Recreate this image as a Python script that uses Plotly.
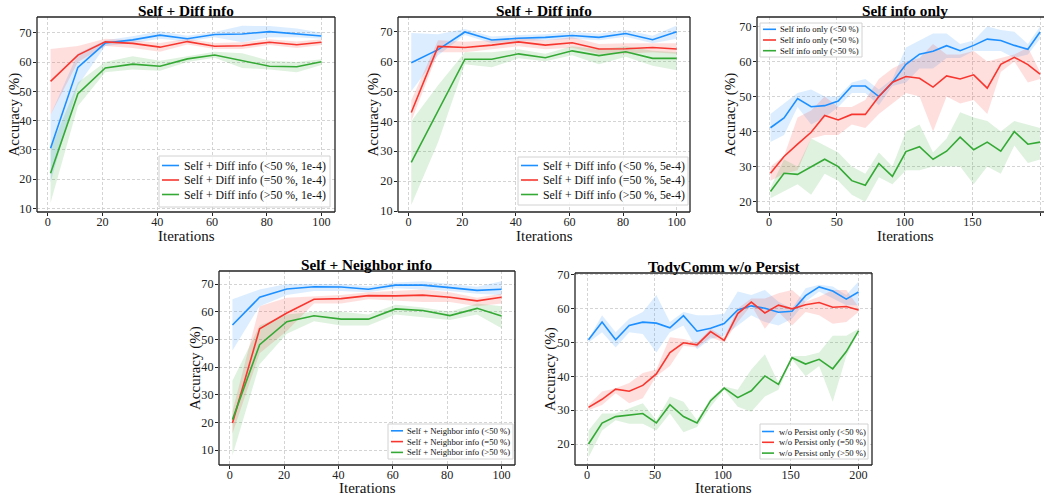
import plotly.graph_objects as go

W, H = 1044, 495

# ---------------- data ----------------
x100 = [1, 11, 21, 31, 41, 51, 61, 71, 81, 91, 100]
x200 = [1, 11, 21, 31, 41, 51, 61, 71, 81, 91, 101, 111, 121, 131, 141, 151, 161, 171, 181, 191, 200]

# Panel 1: Self + Diff info (1e-4)
p1_blue = [30.6, 58.2, 66.5, 67.6, 69.2, 68.0, 69.4, 69.6, 70.4, 69.7, 68.9]
p1_blue_lo = [19.0, 52.0, 65.5, 66.5, 68.0, 67.0, 68.5, 66.8, 68.5, 68.5, 68.0]
p1_blue_hi = [42.0, 63.0, 67.5, 68.8, 70.5, 69.0, 70.3, 72.4, 72.3, 71.5, 70.0]
p1_red = [53.4, 62.4, 66.9, 66.4, 65.1, 67.0, 65.4, 65.6, 66.8, 65.9, 66.8]
p1_red_lo = [42.0, 60.0, 65.5, 64.8, 63.5, 66.0, 64.5, 64.5, 65.8, 64.8, 65.8]
p1_red_hi = [64.5, 65.5, 68.0, 67.5, 66.5, 68.0, 66.5, 66.8, 67.8, 67.0, 67.8]
p1_green = [22.0, 49.2, 58.0, 59.3, 58.6, 61.1, 62.4, 60.5, 58.6, 58.4, 60.1]
p1_green_lo = [12.0, 45.0, 56.5, 57.5, 57.0, 60.0, 61.5, 58.0, 57.5, 56.5, 59.0]
p1_green_hi = [30.5, 53.0, 60.0, 62.0, 60.5, 62.0, 63.5, 63.0, 60.5, 60.0, 61.0]

# Panel 2: Self + Diff info (5e-4)
p2_blue = [59.5, 63.9, 69.8, 67.1, 67.7, 68.0, 68.6, 68.0, 69.3, 67.2, 69.9]
p2_blue_lo = [50.0, 62.0, 68.8, 66.0, 66.8, 67.0, 67.5, 67.0, 68.2, 66.0, 67.5]
p2_blue_hi = [69.5, 69.0, 70.8, 68.3, 68.8, 69.0, 69.8, 69.2, 70.5, 68.5, 72.0]
p2_red = [42.9, 65.0, 64.6, 65.4, 66.5, 65.4, 66.2, 64.1, 64.2, 64.6, 64.1]
p2_red_lo = [40.0, 63.0, 63.0, 64.0, 65.0, 64.0, 64.5, 62.5, 62.5, 63.0, 62.5]
p2_red_hi = [47.0, 67.0, 66.5, 67.0, 68.0, 67.0, 68.0, 65.8, 66.0, 66.0, 66.0]
p2_green = [26.3, 43.5, 60.7, 60.7, 62.5, 61.2, 63.5, 61.9, 63.2, 61.0, 61.0]
p2_green_lo = [12.0, 33.0, 59.0, 58.0, 61.0, 60.0, 62.0, 59.0, 61.5, 58.5, 57.0]
p2_green_hi = [40.0, 52.0, 63.0, 63.0, 64.0, 62.5, 65.0, 64.0, 65.0, 63.5, 63.0]

# Panel 3: Self info only
p3_blue = [41.1, 43.9, 49.4, 47.1, 47.4, 48.7, 53.0, 53.0, 50.0, 54.0, 59.2, 62.1, 62.9, 64.5, 63.1, 64.6, 66.4, 66.0, 64.6, 63.5, 68.4]
p3_blue_lo = [37, 39, 47, 42, 44, 47, 51, 51, 47.5, 53, 54, 58, 58, 61, 61, 63, 63, 63, 61, 62, 66.5]
p3_blue_hi = [45, 48, 51, 52, 50, 50, 54, 55, 52, 55, 64, 66, 68, 68, 65, 66, 70, 69, 68.5, 65, 70]
p3_red = [28.1, 32.9, 36.4, 39.8, 44.6, 43.3, 44.9, 44.9, 50.0, 54.1, 55.7, 55.2, 52.7, 55.9, 55.0, 56.2, 52.4, 59.2, 61.2, 59.1, 56.4]
p3_red_lo = [26, 28, 29, 38, 39, 39, 42, 41, 45, 48, 51, 50, 40, 50, 48, 49, 45, 57, 60, 54, 55]
p3_red_hi = [30, 33, 44, 46, 50, 47, 47, 49, 55, 58, 60, 61, 65, 62, 62, 63, 60, 61, 62, 64, 57]
p3_green = [22.9, 28.1, 27.8, 30.0, 32.1, 30.0, 26.0, 24.7, 30.9, 27.2, 34.3, 35.7, 32.1, 34.4, 38.4, 34.8, 37.0, 34.4, 40.0, 36.4, 37.0]
p3_green_lo = [21, 23, 25, 22, 28, 26, 22, 20, 27, 25, 29, 29, 30, 30, 30, 25, 30, 28, 36, 31, 32]
p3_green_hi = [24, 32, 30, 38, 36, 34, 30, 28, 34, 30, 40, 42, 34, 38, 45.5, 44, 43, 40, 43, 42, 41]

# Panel 4: Self + Neighbor info
p4_blue = [55.2, 65.2, 68.2, 69.0, 68.9, 68.1, 69.6, 69.6, 68.7, 67.7, 68.1]
p4_blue_lo = [46, 62, 66, 67.5, 67.5, 67, 68.5, 68, 67.5, 66.5, 66]
p4_blue_hi = [64.5, 68, 70, 70, 70, 69.2, 70.5, 71, 70, 69, 71]
p4_red = [19.8, 53.8, 59.5, 64.5, 64.7, 65.8, 65.7, 66.0, 65.2, 63.9, 65.2]
p4_red_lo = [16, 45, 53, 63, 63, 64.5, 64, 63.5, 63.5, 62, 63]
p4_red_hi = [24, 62, 65, 65.5, 66, 67, 67.5, 68, 67, 65, 66.5]
p4_green = [21.0, 48.1, 56.4, 58.5, 57.3, 57.3, 61.0, 60.4, 58.6, 61.2, 58.4]
p4_green_lo = [8, 41, 52, 56.5, 55, 55, 59, 58, 57, 59, 54]
p4_green_hi = [35, 55, 59, 60, 60, 59, 62.5, 61.5, 60, 63, 62]

# Panel 5: TodyComm w/o Persist
p5_blue = [50.8, 56.0, 50.8, 55.0, 56.0, 55.7, 54.3, 57.9, 53.3, 54.2, 55.6, 59.6, 60.8, 60.1, 58.9, 59.2, 63.8, 66.4, 65.2, 62.8, 64.9]
p5_blue_lo = [50, 53, 48.5, 53, 52.5, 47, 53, 55, 48, 51, 52, 55, 58, 56, 55, 57, 62, 65, 63, 61, 61]
p5_blue_hi = [51, 58, 53, 57, 59, 64, 56, 59, 58, 58, 58.5, 65, 64, 65.5, 62, 60, 66, 67, 66.5, 64, 68]
p5_red = [30.8, 33.2, 36.2, 35.6, 37.3, 40.7, 47.0, 49.9, 49.3, 53.2, 50.6, 58.5, 61.9, 58.7, 61.0, 59.9, 61.1, 61.8, 60.4, 60.6, 59.6]
p5_red_lo = [30, 31.5, 35, 32, 33.5, 40, 43, 49, 48.5, 51.5, 50, 56, 61, 54, 59, 55, 59, 58, 55.5, 56, 59]
p5_red_hi = [31.5, 35.5, 36.5, 38, 41, 42, 51.5, 51, 50, 54, 51.5, 60, 63, 63, 64.5, 65.5, 62, 63.5, 65.5, 65.5, 60.5]
p5_green = [20.0, 26.2, 28.1, 28.5, 29.0, 26.2, 31.6, 28.1, 26.2, 32.8, 36.5, 33.7, 35.7, 40.1, 37.6, 45.5, 43.6, 45.0, 42.2, 47.3, 53.4]
p5_green_lo = [16, 24, 27, 26, 26, 24, 29, 23.5, 25, 31, 36, 31, 29.5, 34, 36, 45, 40, 43, 32.5, 46, 53]
p5_green_hi = [24, 29, 29, 30.5, 32, 27, 34, 32.5, 27, 33.5, 37, 36, 42, 46.5, 38, 46, 46, 47, 52, 52, 54]

titles = ["Self + Diff info", "Self + Diff info", "Self info only", "Self + Neighbor info", "TodyComm w/o Persist"]
names1 = ["Self + Diff info (<50 %, 1e-4)", "Self + Diff info (=50 %, 1e-4)", "Self + Diff info (>50 %, 1e-4)"]
names2 = ["Self + Diff info (<50 %, 5e-4)", "Self + Diff info (=50 %, 5e-4)", "Self + Diff info (>50 %, 5e-4)"]
names3 = ["Self info only (<50 %)", "Self info only (=50 %)", "Self info only (>50 %)"]
names4 = ["Self + Neighbor info (<50 %)", "Self + Neighbor info (=50 %)", "Self + Neighbor info (>50 %)"]
names5 = ["w/o Persist only (<50 %)", "w/o Persist only (=50 %)", "w/o Persist only (>50 %)"]

# ---------------- style ----------------
FONT = "Liberation Serif, Times New Roman, Times, serif"
COLORS = ["#1e8fff", "#f7372f", "#35a935"]
BANDS = ["rgba(30,143,255,0.16)", "rgba(247,55,47,0.16)", "rgba(53,169,53,0.16)"]


def px_x(p):
    return p / W


def px_y(p):
    return 1 - p / H


# legend geometry (pixels): box (x0, x1, y0, y1), row centres, handle x0, x1, text x, font size
panels = [
    dict(x=x100, series=[(p1_blue, p1_blue_lo, p1_blue_hi), (p1_red, p1_red_lo, p1_red_hi), (p1_green, p1_green_lo, p1_green_hi)],
         names=names1, dom=(37, 335, 17, 212), xr=[-3.95, 104.95], yr=[8.8, 75.4], xt=[0, 20, 40, 60, 80, 100],
         yt=[10, 20, 30, 40, 50, 60, 70], box=(159, 330, 156, 207), rows=(165.5, 180, 194.5), hx=(162, 179), tx=182,
         lfs=11.8, ylab_x=14, right=True),
    dict(x=x100, series=[(p2_blue, p2_blue_lo, p2_blue_hi), (p2_red, p2_red_lo, p2_red_hi), (p2_green, p2_green_lo, p2_green_hi)],
         names=names2, dom=(398, 690, 17, 212), xr=[-3.95, 104.95], yr=[9.7, 74.8], xt=[0, 20, 40, 60, 80, 100],
         yt=[10, 20, 30, 40, 50, 60, 70], box=(518, 688, 157, 205), rows=(165.5, 180, 194.5), hx=(521, 538), tx=541,
         lfs=11.8, ylab_x=373, right=True),
    dict(x=x200, series=[(p3_blue, p3_blue_lo, p3_blue_hi), (p3_red, p3_red_lo, p3_red_hi), (p3_green, p3_green_lo, p3_green_hi)],
         names=names3, dom=(757, 1044, 17, 212), xr=[-8.95, 202.9], yr=[17.05, 72.7], xt=[0, 50, 100, 150, 200],
         yt=[20, 30, 40, 50, 60, 70], box=(760, 862, 23, 57), rows=(29.3, 40, 50.7), hx=(763, 776), tx=778,
         lfs=8.7, ylab_x=730, right=False, center=905),
    dict(x=x100, series=[(p4_blue, p4_blue_lo, p4_blue_hi), (p4_red, p4_red_lo, p4_red_hi), (p4_green, p4_green_lo, p4_green_hi)],
         names=names4, dom=(219, 515, 271, 465), xr=[-3.95, 104.95], yr=[4.6, 74.7], xt=[0, 20, 40, 60, 80, 100],
         yt=[10, 20, 30, 40, 50, 60, 70], box=(388, 513, 424, 459), rows=(430.8, 441.6, 452.4), hx=(391, 403), tx=405,
         lfs=8.7, ylab_x=195, right=True),
    dict(x=x200, series=[(p5_blue, p5_blue_lo, p5_blue_hi), (p5_red, p5_red_lo, p5_red_hi), (p5_green, p5_green_lo, p5_green_hi)],
         names=names5, dom=(575, 872, 273, 465), xr=[-8.95, 209.95], yr=[13.8, 70.5], xt=[0, 50, 100, 150, 200],
         yt=[20, 30, 40, 50, 60, 70], box=(760, 868, 424, 459), rows=(431.5, 442.3, 453.1), hx=(762, 774), tx=777,
         lfs=8.7, ylab_x=550, right=True),
]

fig = go.Figure()
layout = dict(width=W, height=H, margin=dict(l=0, r=0, t=0, b=0, autoexpand=False), paper_bgcolor="white",
              plot_bgcolor="white", font=dict(family=FONT, color="#111111"), showlegend=False, template="none")
annotations = []
shapes = []

for i, p in enumerate(panels):
    k = i + 1
    sfx = "" if k == 1 else str(k)
    xa, ya = "x" + sfx, "y" + sfx
    xs = p["x"]
    # shaded bands
    for j, (m, lo, hi) in enumerate(p["series"]):
        fig.add_trace(go.Scatter(x=xs + xs[::-1], y=hi + lo[::-1], fill="toself", fillcolor=BANDS[j],
                                 line=dict(width=0), mode="lines", hoverinfo="skip", showlegend=False,
                                 xaxis=xa, yaxis=ya))
    # mean lines
    for j, (m, lo, hi) in enumerate(p["series"]):
        fig.add_trace(go.Scatter(x=xs, y=m, mode="lines", name=p["names"][j], line=dict(color=COLORS[j], width=1.6),
                                 xaxis=xa, yaxis=ya, showlegend=False))
    x0, x1, y0, y1 = p["dom"]
    axcommon = dict(showline=False, ticks="outside", ticklen=3, tickwidth=1, tickcolor="#222222",
                    showgrid=True, gridcolor="#c9c9c9", gridwidth=0.8, griddash="3px,2px", zeroline=False,
                    automargin=False, tickfont=dict(family=FONT, size=12.2, color="#222222"))
    layout["xaxis" + sfx] = dict(axcommon, domain=[px_x(x0), min(1.0, px_x(x1))], range=p["xr"], tickvals=p["xt"],
                                 anchor=ya, ticklabelstandoff=-5)
    layout["yaxis" + sfx] = dict(axcommon, domain=[px_y(y1), px_y(y0)], range=p["yr"], tickvals=p["yt"],
                                 anchor=xa, ticklabelstandoff=-1)
    # frame (spines)
    dx = xa + " domain"
    dy = ya + " domain"
    fr = dict(type="line", xref=dx, yref=dy, line=dict(color="#222222", width=1.3), layer="above")
    shapes.append(dict(fr, x0=0, x1=1, y0=0, y1=0))
    shapes.append(dict(fr, x0=0, x1=1, y0=1, y1=1))
    shapes.append(dict(fr, x0=0, x1=0, y0=0, y1=1))
    if p["right"]:
        shapes.append(dict(fr, x0=1, x1=1, y0=0, y1=1))

    # legend box, handles and labels
    bx0, bx1, by0, by1 = p["box"]
    shapes.append(dict(type="rect", xref="paper", yref="paper", x0=px_x(bx0), x1=px_x(bx1), y0=px_y(by1),
                       y1=px_y(by0), fillcolor="rgba(255,255,255,0.85)", line=dict(color="#d2d2d2", width=1),
                       layer="above"))
    for j, ry in enumerate(p["rows"]):
        shapes.append(dict(type="line", xref="paper", yref="paper", x0=px_x(p["hx"][0]), x1=px_x(p["hx"][1]),
                           y0=px_y(ry), y1=px_y(ry), line=dict(color=COLORS[j], width=1.6), layer="above"))
        annotations.append(dict(text=p["names"][j], x=px_x(p["tx"]), y=px_y(ry), xref="paper", yref="paper",
                                showarrow=False, xanchor="left", yanchor="middle",
                                font=dict(family=FONT, size=p["lfs"], color="#111111")))

    cx = p.get("center", (x0 + x1) / 2)
    ty = y0 - 7
    annotations.append(dict(text="<b>" + titles[i] + "</b>", x=px_x(cx), y=px_y(ty), xref="paper", yref="paper",
                            showarrow=False, xanchor="center", yanchor="middle",
                            font=dict(family=FONT, size=15.3, color="#000000")))
    xl_y = 235.5 if k <= 3 else 488
    annotations.append(dict(text="Iterations", x=px_x(cx), y=px_y(xl_y), xref="paper", yref="paper",
                            showarrow=False, xanchor="center", yanchor="middle",
                            font=dict(family=FONT, size=15, color="#111111")))
    annotations.append(dict(text="Accuracy (%)", x=px_x(p["ylab_x"]), y=px_y((y0 + y1) / 2), xref="paper",
                            yref="paper", showarrow=False, xanchor="center", yanchor="middle", textangle=-90,
                            font=dict(family=FONT, size=15, color="#111111")))

layout["annotations"] = annotations
layout["shapes"] = shapes
fig.update_layout(**layout)
fig.write_html("out.html", config={"displayModeBar": False, "staticPlot": True},
               post_script="document.body.style.margin='0';document.body.style.padding='0';"
                           "document.body.style.overflow='hidden';")
